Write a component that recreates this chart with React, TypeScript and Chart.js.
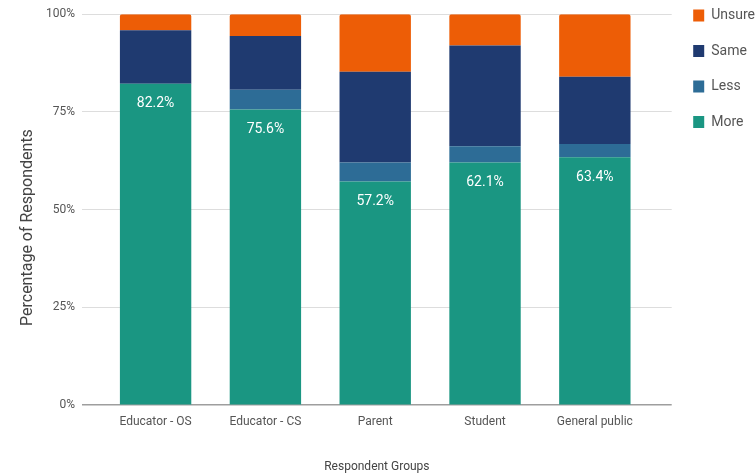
import React, { useEffect, useRef } from 'react';
import { Chart, registerables } from 'chart.js';

Chart.register(...registerables);

const categories = ['Educator - OS', 'Educator - CS', 'Parent', 'Student', 'General public'];
const moreValues = [82.2, 75.6, 57.2, 62.1, 63.4];
const lessValues = [0, 5.1, 4.9, 4.1, 3.4];
const sameValues = [13.7, 13.7, 23.2, 25.8, 17.2];
const unsureValues = [4.1, 5.6, 14.7, 8.0, 16.0];
const yTickValues = [0, 25, 50, 75, 100];

const seriesNames = ['More', 'Less', 'Same', 'Unsure'];
const seriesColors = ['#1a9682', '#2d6c96', '#1f3a70', '#ed5d06'];

const FONT = 'Roboto';

const moreLabelPlugin = {
  id: 'moreLabels',
  afterDatasetsDraw(chart: any) {
    const meta = chart.getDatasetMeta(0);
    const ctx = chart.ctx;
    ctx.save();
    ctx.fillStyle = '#ffffff';
    ctx.font = `14px ${FONT}`;
    ctx.textAlign = 'center';
    ctx.textBaseline = 'middle';
    meta.data.forEach((el: any, i: number) => {
      const p = el.getProps(['x', 'y'], true);
      ctx.fillText(moreValues[i].toFixed(1) + '%', p.x, p.y + 20);
    });
    ctx.restore();
  },
};

export default function App() {
  const canvasRef = useRef<HTMLCanvasElement | null>(null);

  useEffect(() => {
    document.body.style.margin = '0';
    const canvas = canvasRef.current;
    if (!canvas) return;
    const seriesValues = [moreValues, lessValues, sameValues, unsureValues];
    const datasets = seriesNames.map((name, s) => ({
      label: name,
      data: seriesValues[s].map((v, i) => ({ x: i, y: v })),
      backgroundColor: seriesColors[s],
      borderWidth: 0,
      borderRadius: s === 3 ? { topLeft: 2, topRight: 2, bottomLeft: 0, bottomRight: 0 } : 0,
      borderSkipped: false as any,
      barPercentage: 0.65,
      categoryPercentage: 1,
    }));

    const chart = new Chart(canvas, {
      type: 'bar',
      data: { datasets },
      options: {
        animation: false,
        responsive: true,
        maintainAspectRatio: false,
        layout: { padding: { top: -13, left: 10, right: -10, bottom: 0 } },
        plugins: {
          tooltip: { enabled: false },
          legend: {
            position: 'right',
            align: 'start',
            reverse: true,
            labels: {
              boxWidth: 11,
              boxHeight: 12,
              padding: 21.5,
              color: '#555555',
              font: { family: FONT, size: 14 },
            },
          },
        },
        scales: {
          x: {
            type: 'linear',
            stacked: true,
            offset: false,
            bounds: 'data',
            min: -0.67,
            max: 4.7,
            afterBuildTicks: (scale: any) => {
              scale.ticks = categories.map((_, i) => ({ value: i }));
            },
            ticks: {
              autoSkip: false,
              maxRotation: 0,
              padding: 10,
              color: '#555555',
              font: { family: FONT, size: 12 },
              callback: (v: any) => categories[v] ?? '',
            },
            grid: { display: false, drawTicks: false, offset: false },
            border: { display: false },
            title: {
              display: true,
              text: 'Respondent Groups',
              color: '#444444',
              font: { family: FONT, size: 12 },
              padding: { top: 20, bottom: 1 },
            },
          },
          y: {
            stacked: true,
            min: 0,
            max: 100,
            afterBuildTicks: (scale: any) => {
              scale.ticks = yTickValues.map((v) => ({ value: v }));
            },
            ticks: {
              padding: 7,
              color: '#555555',
              font: { family: FONT, size: 12 },
              callback: (v: any) => v + '%',
            },
            grid: {
              drawTicks: false,
              color: (ctx: any) => (ctx.tick && ctx.tick.value === 0 ? '#9e9e9e' : '#dddddd'),
              lineWidth: (ctx: any) => (ctx.tick && ctx.tick.value === 0 ? 1.5 : 1),
            },
            border: { display: false },
            title: {
              display: true,
              text: 'Percentage of Respondents         ',
              color: '#444444',
              font: { family: FONT, size: 16 },
              padding: { top: 8.4, bottom: 1.4 },
            },
          },
        },
      },
      plugins: [moreLabelPlugin],
    });

    return () => chart.destroy();
  }, []);

  return (
    <div style={{ position: 'relative', width: 755, height: 475 }}>
      <canvas ref={canvasRef} />
    </div>
  );
}
